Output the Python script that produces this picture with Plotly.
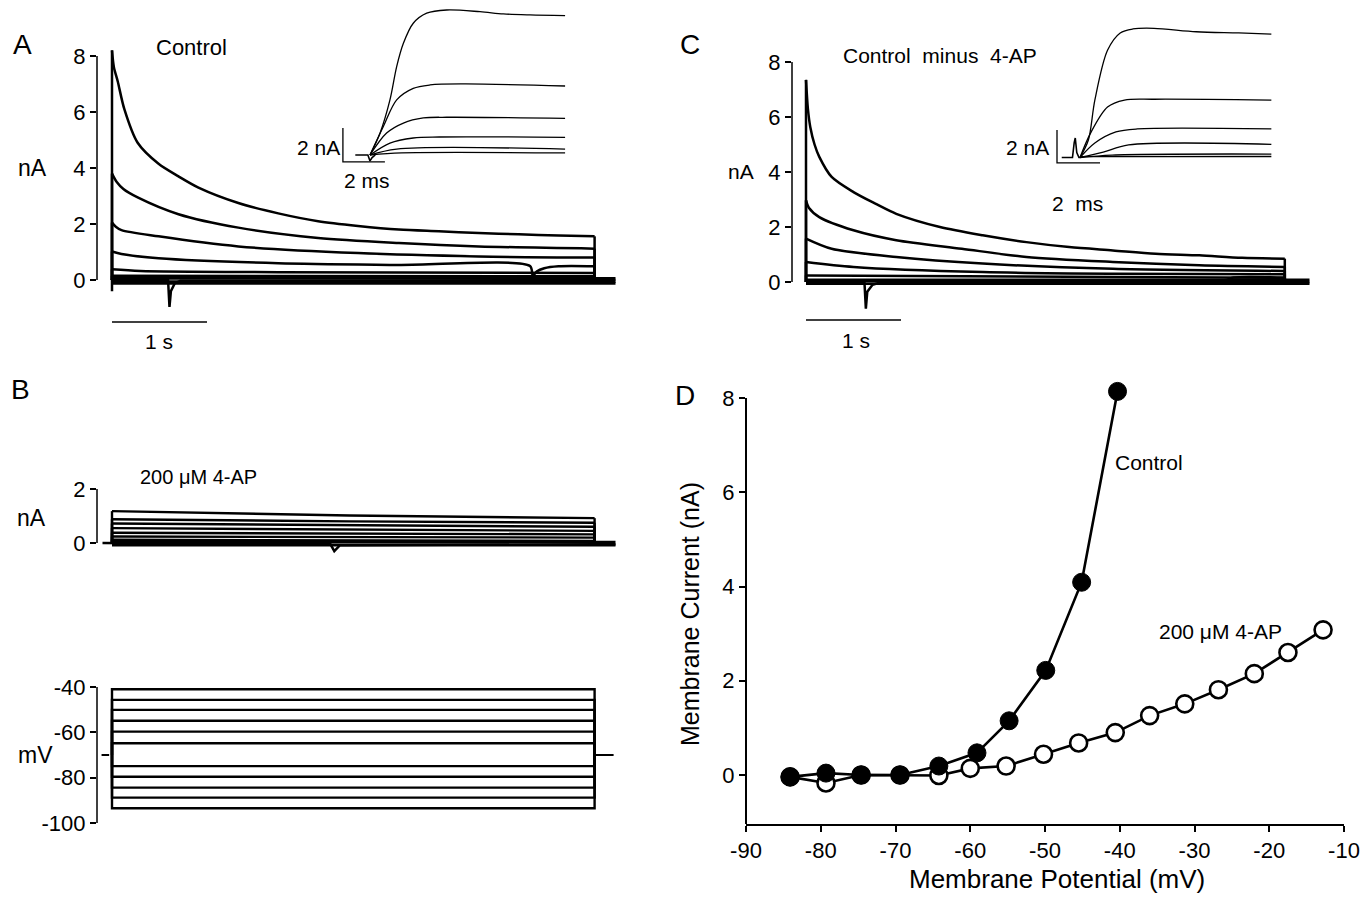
import plotly.graph_objects as go

W, H = 1366, 897
FONT = "Liberation Sans, Arial, Helvetica, sans-serif"
INK = "black"

# ======================= DATA =======================
# Panel A - control currents (nA) vs time (s)
a1_t = [0, 0.02, 0.06, 0.13, 0.27, 0.49, 0.7, 0.91, 1.33, 1.75, 2.17, 2.59, 3.02, 3.44, 3.86, 4.28, 4.7, 5.08]
a1_i = [8.2, 7.6, 7.1, 6.1, 4.9, 4.15, 3.7, 3.3, 2.75, 2.38, 2.1, 1.93, 1.8, 1.74, 1.68, 1.63, 1.59, 1.56]
a2_t = [0, 0.05, 0.12, 0.27, 0.7, 1.33, 2.17, 3.02, 3.86, 5.08]
a2_i = [3.8, 3.5, 3.25, 2.95, 2.35, 1.87, 1.5, 1.32, 1.2, 1.12]
a3_t = [0, 0.04, 0.1, 0.49, 1.33, 2.59, 3.86, 5.08]
a3_i = [2.05, 1.9, 1.78, 1.56, 1.2, 0.96, 0.84, 0.8]
a4_t = [0, 0.1, 0.49, 1.75, 3.02, 4.4, 4.43, 4.47, 4.55, 4.7, 5.08]
a4_i = [1.02, 0.93, 0.78, 0.6, 0.54, 0.5, 0.15, 0.3, 0.42, 0.49, 0.49]
a5_t = [0, 0.3, 1.75, 5.08]
a5_i = [0.38, 0.32, 0.28, 0.25]
a6_t = [0, 5.08]
a6_i = [0.15, 0.13]
a_base_t = [0, 0.0, 0.59, 0.605, 0.62, 0.66, 0.72, 5.08, 5.3]
a_base_i = [-0.4, 0.0, 0.0, -0.96, -0.4, -0.12, -0.03, 0.0, 0.0]
a_band_t = [0, 5.3]
a_band_levels = [0.06, -0.06, -0.12]

# Panel A inset - control currents (nA) vs time (ms)
ai1_t = [0, 0.48, 0.95, 1.27, 1.59, 2.06, 2.7, 3.65, 5.24, 6.35, 7.62, 9.29]
ai1_i = [0, 1.3, 3.24, 5.2, 6.57, 7.75, 8.34, 8.53, 8.43, 8.3, 8.24, 8.2]
ai2_t = [0, 0.63, 1.27, 2.06, 2.86, 4.44, 9.29]
ai2_i = [0, 1.66, 3.24, 3.92, 4.12, 4.18, 4.06]
ai3_t = [0, 0.79, 1.59, 2.54, 3.65, 9.29]
ai3_i = [0, 1.29, 1.88, 2.18, 2.22, 2.16]
ai4_t = [0, 0.95, 2.06, 3.3, 9.29]
ai4_i = [0, 0.7, 1.0, 1.06, 1.04]
ai5_t = [0, 1.27, 9.29]
ai5_i = [0, 0.35, 0.35]
ai6_t = [0, 1.5, 9.29]
ai6_i = [0, 0.12, 0.12]
ai_base_t = [-0.7, -0.1, 0.0, 0.1, 0.25]
ai_base_i = [0, 0, -0.35, -0.15, 0]

# Panel B - 200 uM 4-AP currents (nA) vs time (s)
b_t = [0, 2.5, 5.08]
b_traces_i = [
    [1.18, 1.02, 0.92],
    [0.88, 0.8, 0.75],
    [0.72, 0.66, 0.6],
    [0.55, 0.5, 0.45],
    [0.38, 0.35, 0.32],
    [0.24, 0.22, 0.2],
    [0.12, 0.1, 0.08],
]
b_base_t = [-0.1, 2.3, 2.34, 2.4, 5.08, 5.3]
b_base_i = [0.0, -0.05, -0.3, -0.08, -0.05, -0.05]
b_band_levels = [0.03, -0.08]

# Voltage protocol (mV)
v_levels = [-41.0, -45.7, -50.1, -54.9, -59.7, -64.8, -74.9, -79.6, -84.4, -88.8, -93.5]
v_hold = -70
v_step_t = [0, 5.08]
v_hold_pre_t = [-0.11, -0.03]
v_hold_post_t = [5.08, 5.28]

# Panel C - control minus 4-AP currents (nA) vs time (s)
c1_t = [0, 0.02, 0.045, 0.09, 0.14, 0.27, 0.5, 0.73, 0.95, 1.41, 1.86, 2.32, 2.77, 3.23, 3.68, 4.14, 4.59, 5.04]
c1_i = [7.35, 6.3, 5.64, 5.0, 4.55, 3.82, 3.27, 2.85, 2.48, 2.0, 1.7, 1.45, 1.27, 1.15, 1.03, 0.97, 0.88, 0.85]
c2_t = [0, 0.03, 0.14, 0.5, 0.95, 1.64, 2.32, 3.23, 4.14, 5.04]
c2_i = [2.97, 2.7, 2.36, 1.88, 1.52, 1.21, 0.91, 0.73, 0.61, 0.55]
c3_t = [0, 0.27, 0.95, 1.86, 3.23, 5.04]
c3_i = [1.58, 1.21, 0.91, 0.67, 0.48, 0.4]
c4_t = [0, 0.5, 1.86, 3.23, 5.04]
c4_i = [0.73, 0.55, 0.36, 0.3, 0.28]
c5_t = [0, 5.04]
c5_i = [0.24, 0.15]
c6_t = [0, 4.4, 4.5, 5.04]
c6_i = [0.06, 0.06, 0.16, 0.16]
c_base_t = [0, 0.615, 0.63, 0.645, 0.7, 0.78, 5.04, 5.3]
c_base_i = [0.0, 0.0, -0.97, -0.35, -0.1, -0.02, 0.0, 0.0]
c_band_t = [0, 5.3]
c_band_levels = [0.08, -0.06]

# Panel C inset (nA vs ms)
ci1_t = [0, 0.39, 0.69, 1.28, 1.87, 2.46, 3.44, 5.41, 7.38, 8.9]
ci1_i = [0, 1.06, 3.48, 6.5, 7.55, 7.79, 7.83, 7.62, 7.55, 7.48]
ci2_t = [0, 0.49, 1.28, 2.07, 3.44, 8.9]
ci2_i = [0, 1.48, 3.06, 3.48, 3.53, 3.48]
ci3_t = [0, 0.69, 1.67, 2.66, 8.9]
ci3_i = [0, 0.88, 1.55, 1.73, 1.73]
ci4_t = [0, 1.08, 2.26, 8.9]
ci4_i = [0, 0.33, 0.76, 0.8]
ci5_t = [0, 1.5, 8.9]
ci5_i = [0, 0.15, 0.21]
ci6_t = [0, 8.9]
ci6_i = [0.05, 0.06]
ci_base_t = [-0.85, -0.35, -0.27, -0.22, -0.15, -0.05, 0]
ci_base_i = [0, 0, 0.9, 1.18, 0.3, 0, 0]

# Scale bars
scale_s = 1.0     # main panels: 1 s
scale_ms = 2.0    # insets: 2 ms
scale_nA = 2.0    # insets: 2 nA

# Panel D - I-V relation
ctrl_v = [-84.1, -79.3, -74.6, -69.4, -64.2, -59.1, -54.8, -49.9, -45.1, -40.3]
ctrl_i = [-0.04, 0.04, 0.0, 0.0, 0.19, 0.47, 1.15, 2.22, 4.09, 8.14]
ap_v = [-84.1, -79.3, -74.6, -69.4, -64.2, -60.0, -55.2, -50.2, -45.5, -40.6,
        -36.0, -31.3, -26.8, -22.0, -17.5, -12.8]
ap_i = [-0.04, -0.17, 0.0, 0.0, -0.01, 0.14, 0.19, 0.44, 0.68, 0.9,
        1.26, 1.51, 1.81, 2.15, 2.6, 3.08]

a_ticks = [0, 2, 4, 6, 8]
b_ticks = [0, 2]
v_ticks = [-40, -60, -80, -100]
d_xticks = [-90, -80, -70, -60, -50, -40, -30, -20, -10]
d_yticks = [0, 2, 4, 6, 8]


# ======================= LAYOUT HELPERS =======================
def xdom(p0, p1):
    return [p0 / W, p1 / W]


def ydom(p_top, p_bot):
    return [1 - p_bot / H, 1 - p_top / H]


def xrange_px(p0, p1, pa, va, pb, vb):
    k = (vb - va) / (pb - pa)
    return [va + (p0 - pa) * k, va + (p1 - pa) * k]


def yrange_px(p_top, p_bot, pa, va, pb, vb):
    k = (vb - va) / (pb - pa)
    return [va + (p_bot - pa) * k, va + (p_top - pa) * k]


def seg(t, i, base=0.0):
    xs = [t[0], t[0], None] + list(t) + [None, t[-1], t[-1]]
    ys = [base, i[0], None] + list(i) + [None, i[-1], base]
    return xs, ys


fig = go.Figure()


def add_line(x, y, xa, ya, width=2.5, shape="spline", smoothing=0.8):
    fig.add_trace(go.Scatter(
        x=x, y=y, xaxis=xa, yaxis=ya, mode="lines", showlegend=False,
        hoverinfo="skip", connectgaps=False,
        line=dict(color=INK, width=width, shape=shape,
                  smoothing=smoothing if shape == "spline" else None),
    ))


# ---------- Panel A ----------
for t, i in [(a1_t, a1_i), (a2_t, a2_i), (a3_t, a3_i), (a4_t, a4_i), (a5_t, a5_i), (a6_t, a6_i)]:
    xs, ys = seg(t, i)
    add_line(xs, ys, "x", "y")
add_line(a_base_t, a_base_i, "x", "y", width=2.5, shape="linear")
for lv in a_band_levels:
    add_line(a_band_t, [lv, lv], "x", "y", width=2.8, shape="linear")
add_line([0, scale_s], [-1.5, -1.5], "x", "y", width=1.5, shape="linear")

# ---------- Panel A inset ----------
for t, i in [(ai1_t, ai1_i), (ai2_t, ai2_i), (ai3_t, ai3_i), (ai4_t, ai4_i), (ai5_t, ai5_i), (ai6_t, ai6_i)]:
    add_line(t, i, "x2", "y2", width=1.3, smoothing=0.9)
add_line(ai_base_t, ai_base_i, "x2", "y2", width=1.6, shape="linear")
add_line([-1.29, -1.29, -1.29 + scale_ms], [-0.41 + scale_nA, -0.41, -0.41], "x2", "y2", width=1.3, shape="linear")

# ---------- Panel B ----------
for i in b_traces_i:
    xs, ys = seg(b_t, i)
    add_line(xs, ys, "x3", "y3", width=2.4, shape="linear")
add_line(b_base_t, b_base_i, "x3", "y3", width=2.5, shape="linear")
for lv in b_band_levels:
    add_line([b_t[0], b_base_t[-1]], [lv, lv], "x3", "y3", width=2.8, shape="linear")

# ---------- Voltage protocol ----------
for lv in v_levels:
    add_line([v_step_t[0], v_step_t[0], v_step_t[1], v_step_t[1]],
             [v_hold, lv, lv, v_hold], "x4", "y4", width=2.4, shape="linear")
add_line(v_hold_pre_t, [v_hold, v_hold], "x4", "y4", width=2.0, shape="linear")
add_line(v_hold_post_t, [v_hold, v_hold], "x4", "y4", width=2.0, shape="linear")

# ---------- Panel C ----------
for t, i in [(c1_t, c1_i), (c2_t, c2_i), (c3_t, c3_i), (c4_t, c4_i), (c5_t, c5_i), (c6_t, c6_i)]:
    xs, ys = seg(t, i)
    add_line(xs, ys, "x5", "y5")
add_line(c_base_t, c_base_i, "x5", "y5", width=2.5, shape="linear")
for lv in c_band_levels:
    add_line(c_band_t, [lv, lv], "x5", "y5", width=2.8, shape="linear")
add_line([0, scale_s], [-1.38, -1.38], "x5", "y5", width=1.5, shape="linear")

# ---------- Panel C inset ----------
for t, i in [(ci1_t, ci1_i), (ci2_t, ci2_i), (ci3_t, ci3_i), (ci4_t, ci4_i), (ci5_t, ci5_i), (ci6_t, ci6_i)]:
    add_line(t, i, "x6", "y6", width=1.3, smoothing=0.9)
add_line(ci_base_t, ci_base_i, "x6", "y6", width=1.6, shape="linear")
add_line([-1.07, -1.07, -1.07 + scale_ms], [-0.33 + scale_nA, -0.33, -0.33], "x6", "y6", width=1.3, shape="linear")

# ---------- Panel D ----------
fig.add_trace(go.Scatter(
    x=ap_v, y=ap_i, xaxis="x7", yaxis="y7", mode="lines+markers", showlegend=False,
    cliponaxis=False, hoverinfo="skip",
    line=dict(color=INK, width=2.6),
    marker=dict(symbol="circle", size=17, color="white", line=dict(color=INK, width=2.6)),
))
fig.add_trace(go.Scatter(
    x=ctrl_v, y=ctrl_i, xaxis="x7", yaxis="y7", mode="lines+markers", showlegend=False,
    cliponaxis=False, hoverinfo="skip",
    line=dict(color=INK, width=2.6),
    marker=dict(symbol="circle", size=18, color=INK, line=dict(color=INK, width=1)),
))

# ======================= AXES =======================
tickfont_big = dict(family=FONT, size=22, color=INK)
hidden = dict(visible=False, showgrid=False, zeroline=False, automargin=False)


def yaxis_traces(dom, rng, ticks, anchor):
    return dict(domain=dom, range=rng, anchor=anchor, showline=False, showgrid=False,
                zeroline=False, ticks="outside", ticklen=6, tickwidth=1.5, tickcolor=INK,
                tickvals=ticks, ticktext=[str(v) for v in ticks], tickfont=tickfont_big,
                automargin=False)


x_main_A = xrange_px(97, 625, 112, 0, 207, 1)
d_top_px = 370
layout_axes = dict(
    # A
    xaxis=dict(domain=xdom(97, 625), range=x_main_A, anchor="y", **hidden),
    yaxis=yaxis_traces(ydom(40, 335), yrange_px(40, 335, 280, 0, 56, 8), a_ticks, "x"),
    # A inset
    xaxis2=dict(domain=xdom(330, 610), range=xrange_px(330, 610, 370, 0, 391, 1), anchor="y2", **hidden),
    yaxis2=dict(domain=ydom(0, 180), range=yrange_px(0, 180, 155, 0, 138, 1), anchor="x2", **hidden),
    # B
    xaxis3=dict(domain=xdom(97, 625), range=x_main_A, anchor="y3", **hidden),
    yaxis3=yaxis_traces(ydom(470, 565), yrange_px(470, 565, 543, 0, 489, 2), b_ticks, "x3"),
    # V
    xaxis4=dict(domain=xdom(97, 625), range=x_main_A, anchor="y4", **hidden),
    yaxis4=yaxis_traces(ydom(675, 835), yrange_px(675, 835, 687, -40, 823, -100), v_ticks, "x4"),
    # C
    xaxis5=dict(domain=xdom(792, 1320), range=xrange_px(792, 1320, 806, 0, 901, 1), anchor="y5", **hidden),
    yaxis5=yaxis_traces(ydom(45, 335), yrange_px(45, 335, 282, 0, 62, 8), a_ticks, "x5"),
    # C inset
    xaxis6=dict(domain=xdom(1030, 1320), range=xrange_px(1030, 1320, 1080, 0, 1101.5, 1), anchor="y6", **hidden),
    yaxis6=dict(domain=ydom(0, 220), range=yrange_px(0, 220, 157.5, 0, 141, 1), anchor="x6", **hidden),
    # D
    xaxis7=dict(domain=xdom(746, 1344), range=[-90, -10], anchor="y7", showline=True, linewidth=2,
                linecolor=INK, showgrid=False, zeroline=False, ticks="outside", ticklen=6,
                tickwidth=2, tickcolor=INK, tickvals=d_xticks, ticktext=[str(v) for v in d_xticks],
                tickfont=dict(family=FONT, size=22, color=INK), automargin=False),
    yaxis7=dict(domain=ydom(d_top_px, 824), range=yrange_px(d_top_px, 824, 824, -1.04, 398, 8),
                anchor="x7", showline=False, showgrid=False, zeroline=False, ticks="outside",
                ticklen=6, tickwidth=2, tickcolor=INK, tickvals=d_yticks,
                ticktext=[str(v) for v in d_yticks],
                tickfont=dict(family=FONT, size=22, color=INK), automargin=False),
)

# axis spines that only span the tick range
shapes = []
for xa, ya, lo, hi, w in [("x", "y", 0, 8, 1.5), ("x3", "y3", 0, 2, 1.5), ("x4", "y4", -100, -40, 1.5),
                          ("x5", "y5", 0, 8, 1.5), ("x7", "y7", -1.04, 8, 2)]:
    shapes.append(dict(type="line", xref=f"{xa} domain", yref=ya, x0=0, x1=0, y0=lo, y1=hi,
                       line=dict(color=INK, width=w)))


def ann(text, px, py, size=20, angle=0):
    return dict(text=text, x=px / W, y=1 - py / H, xref="paper", yref="paper",
                showarrow=False, xanchor="center", yanchor="middle", textangle=angle,
                font=dict(family=FONT, size=size, color=INK))


annotations = [
    ann("A", 22, 45, 28), ann("B", 20, 390, 28), ann("C", 690, 45, 28), ann("D", 685, 395, 28),
    ann("Control", 191, 48, 22),
    ann("nA", 32, 168, 23),
    ann("2 nA", 318, 147, 21), ann("2 ms", 367, 181, 21),
    ann("1 s", 159, 342, 21),
    ann("Control&nbsp;&nbsp;minus&nbsp;&nbsp;4-AP", 940, 55, 21),
    ann("nA", 741, 172, 21),
    ann("2 nA", 1027, 148, 21), ann("2&nbsp;&nbsp;ms", 1077, 203, 21),
    ann("1 s", 856, 340, 21),
    ann("200 μM 4-AP", 198, 477, 20),
    ann("nA", 31, 518, 23),
    ann("mV", 35, 755, 23),
    ann("Control", 1149, 463, 21),
    ann("200 μM 4-AP", 1220, 631, 21),
    ann("Membrane Current (nA)", 690, 614, 25, -90),
    ann("Membrane Potential (mV)", 1057, 879, 26),
]

fig.update_layout(
    template="none",
    width=W, height=H, autosize=False,
    margin=dict(l=0, r=0, t=0, b=0, pad=0, autoexpand=False),
    paper_bgcolor="white", plot_bgcolor="rgba(0,0,0,0)",
    font=dict(family=FONT, color=INK),
    shapes=shapes, annotations=annotations,
    **layout_axes,
)

fig.write_html("out.html", config={"displayModeBar": False},
               post_script="document.body.style.margin='0';")
